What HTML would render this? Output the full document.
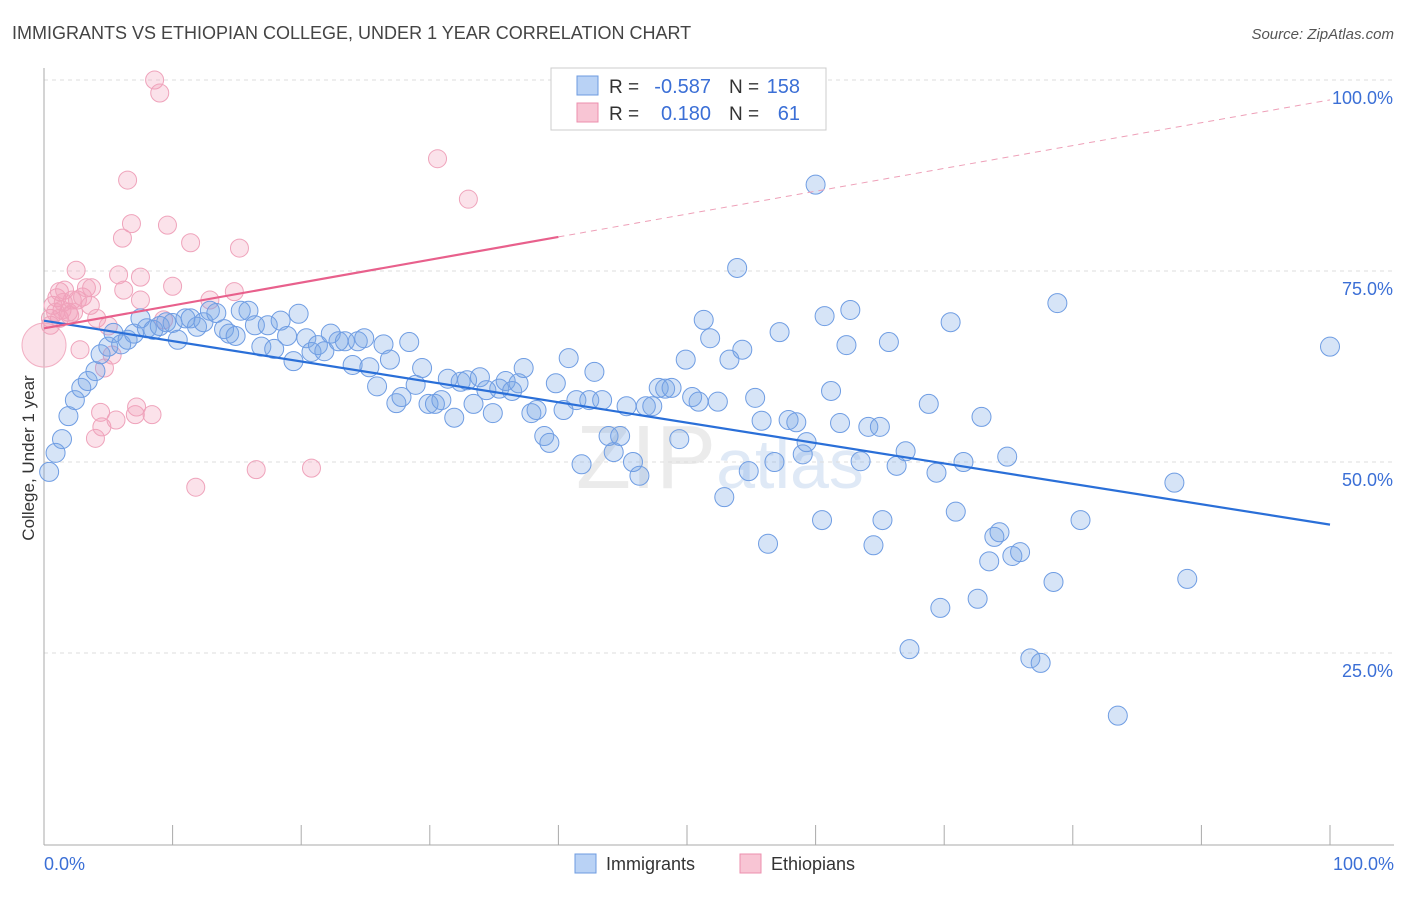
<!DOCTYPE html>
<html><head><meta charset="utf-8"><style>
body{margin:0;background:#fff;font-family:"Liberation Sans",sans-serif;}
svg text{font-family:"Liberation Sans",sans-serif;}
</style></head><body>
<svg id="chart" width="1406" height="892" viewBox="0 0 1406 892" xmlns="http://www.w3.org/2000/svg">
<text x="12" y="39" font-size="18" fill="#444">IMMIGRANTS VS ETHIOPIAN COLLEGE, UNDER 1 YEAR CORRELATION CHART</text>
<text x="1394" y="39" font-size="15" fill="#555" text-anchor="end" font-style="italic">Source: ZipAtlas.com</text>
<text x="720" y="488" font-size="90" fill="#eceef1" text-anchor="middle" font-family="Liberation Serif"><tspan fill="#ebebeb">ZIP</tspan><tspan fill="#dfe9f6" font-family="Liberation Sans" font-size="70">atlas</tspan></text>
<g id="grid"></g>
<line x1="44" y1="68" x2="44" y2="845" stroke="#aaa" stroke-width="1"/>
<line x1="44" y1="845" x2="1394" y2="845" stroke="#aaa" stroke-width="1"/>
<text transform="translate(34,458) rotate(-90)" font-size="17" fill="#333" text-anchor="middle">College, Under 1 year</text>
<text x="44" y="870" font-size="18" fill="#3b6fd6">0.0%</text>
<text x="1394" y="870" font-size="18" fill="#3b6fd6" text-anchor="end">100.0%</text>
<g id="pts"></g>
<g id="trends"></g>
<g>
<rect x="551" y="68" width="275" height="62" fill="#fff" stroke="#ccc"/>
<rect x="577" y="76" width="21" height="19" fill="#b9d2f5" stroke="#6d9be0"/>
<rect x="577" y="103" width="21" height="19" fill="#f8c5d4" stroke="#ec8fae"/>
<text x="609" y="93" font-size="19" fill="#333">R =</text>
<text x="711" y="93" font-size="20" fill="#3b6fd6" text-anchor="end">-0.587</text>
<text x="729" y="93" font-size="19" fill="#333">N =</text>
<text x="800" y="93" font-size="20" fill="#3b6fd6" text-anchor="end">158</text>
<text x="609" y="120" font-size="19" fill="#333">R =</text>
<text x="711" y="120" font-size="20" fill="#3b6fd6" text-anchor="end">0.180</text>
<text x="729" y="120" font-size="19" fill="#333">N =</text>
<text x="800" y="120" font-size="20" fill="#3b6fd6" text-anchor="end">61</text>
</g>
<g>
<rect x="575" y="854" width="21" height="19" fill="#b9d2f5" stroke="#6d9be0"/>
<text x="606" y="870" font-size="18" fill="#333">Immigrants</text>
<rect x="740" y="854" width="21" height="19" fill="#f8c5d4" stroke="#ec8fae"/>
<text x="771" y="870" font-size="18" fill="#333">Ethiopians</text>
</g>
</svg>
<script>
const yTicks=[25,50,75,100];
const yTickLabels=["25.0%","50.0%","75.0%","100.0%"];
const xTicks=[0,10,20,30,40,50,60,70,80,90,100];
const blueX=[0.4,0.9,1.4,1.9,2.4,2.9,3.4,4.0,4.4,5.0,5.4,6.0,6.5,7.0,7.5,8.0,8.5,9.0,9.5,10.0,10.4,11.0,11.4,11.9,12.4,12.9,13.4,14.0,14.4,14.9,15.3,15.9,16.4,16.9,17.4,17.9,18.4,18.9,19.4,19.8,20.4,20.8,21.3,21.8,22.3,22.9,23.4,24.0,24.4,24.9,25.3,25.9,26.4,26.9,27.4,27.8,28.4,28.9,29.4,29.9,30.4,30.9,31.4,31.9,32.4,32.9,33.4,33.9,34.4,34.9,35.4,35.9,36.4,36.9,37.3,37.9,38.3,38.9,39.3,39.8,40.4,40.8,41.4,41.8,42.4,42.8,43.4,43.9,44.3,44.8,45.3,45.8,46.3,46.8,47.3,47.8,48.3,48.8,49.4,49.9,50.4,50.9,51.3,51.8,52.4,52.9,53.3,53.9,54.3,54.8,55.3,55.8,56.3,56.8,57.2,57.9,58.5,59.0,59.3,60.0,60.5,60.7,61.2,61.9,62.4,62.7,63.5,64.1,64.5,65.0,65.2,65.7,66.3,67.0,67.3,68.8,69.4,69.7,70.5,70.9,71.5,72.6,72.9,73.5,73.9,74.3,74.9,75.3,75.9,76.7,77.5,78.5,78.8,80.6,83.5,87.9,88.9,100];
const blueY=[48.7,51.2,53.0,56.0,58.1,59.7,60.6,61.9,64.1,65.1,66.9,65.4,66.0,66.8,68.8,67.5,67.3,67.8,68.3,68.2,66.0,68.8,68.8,67.7,68.3,69.8,69.5,67.4,66.8,66.5,69.8,69.8,67.9,65.1,67.9,64.8,68.5,66.5,63.2,69.4,66.2,64.4,65.3,64.5,66.8,65.8,65.8,62.7,65.8,66.2,62.4,59.9,65.4,63.4,57.7,58.5,65.7,60.1,62.3,57.6,57.6,58.1,60.9,55.8,60.5,60.7,57.6,61.1,59.4,56.4,59.6,60.6,59.3,60.3,62.3,56.4,56.8,53.4,52.5,60.3,56.8,63.6,58.1,49.7,58.1,61.8,58.1,53.4,51.3,53.4,57.3,50.0,48.2,57.3,57.3,59.7,59.6,59.7,53.0,63.4,58.5,57.9,68.6,66.2,57.9,45.4,63.4,75.4,64.7,48.8,58.4,55.4,39.3,50.0,67.0,55.5,55.2,51.0,52.6,86.3,42.4,69.1,59.3,55.1,65.3,69.9,50.1,54.6,39.1,54.6,42.4,65.7,49.5,51.4,25.5,57.6,48.6,30.9,68.3,43.5,50.0,32.1,55.9,37.0,40.2,40.8,50.7,37.7,38.2,24.3,23.7,34.3,70.8,42.4,16.8,47.3,34.7,65.1];
const pinkX=[0.5,0.7,1.0,1.2,1.4,1.6,1.9,2.2,2.5,2.6,3.0,3.3,3.6,3.7,4.1,4.4,4.0,4.5,4.7,5.0,5.3,5.6,5.8,6.1,6.2,6.5,6.8,7.1,7.2,7.5,7.5,8.4,8.6,9.0,9.3,9.6,10.0,11.4,11.8,12.9,14.8,15.2,16.5,20.8,30.6,33.0,0.5,0.9,1.2,1.5,2.0,2.3,2.8];
const pinkY=[68.8,70.5,71.5,72.3,69.9,72.5,69.6,71.2,75.1,71.2,71.6,72.8,70.5,72.8,68.8,56.5,53.1,54.6,62.3,67.8,64.0,55.5,74.5,79.3,72.5,86.9,81.2,56.2,57.2,74.2,71.2,56.2,100,98.3,68.6,81.0,73.0,78.7,46.7,71.2,72.3,78.0,49.0,49.2,89.7,84.4,67.9,69.6,68.8,70.9,69.2,69.6,64.7];
const bigPinkX=[0.0];
const bigPinkY=[65.3];
const blueTrend=[68.5,41.8];
const pinkTrend=[67.5,97.4];
const pinkSolidEnd=40;

const X=v=>44+v*12.86;
const Y=v=>844-v*7.64;
const NS="http://www.w3.org/2000/svg";
function mk(tag,parent,attrs){const e=document.createElementNS(NS,tag);for(const k in attrs)e.setAttribute(k,attrs[k]);parent.appendChild(e);return e;}
const grid=document.getElementById('grid');
yTicks.forEach((t,i)=>{
  const l=mk('line',grid,{x1:44,x2:1394,y1:Y(t),y2:Y(t),stroke:'#ddd','stroke-dasharray':'4,4'});
  
  
  const tx=mk('text',grid,{x:1393,y:Y(t)+24,'font-size':18,fill:'#3b6fd6','text-anchor':'end'});
  tx.textContent=yTickLabels[i];
  
  
});
xTicks.forEach(t=>{
  const l=mk('line',grid,{x1:X(t),x2:X(t),y1:825,y2:845,stroke:'#aaa'});
  
  
});
const pts=document.getElementById('pts');
bigPinkX.forEach((x,i)=>{
  const c=mk('circle',pts,{cx:X(x),cy:Y(bigPinkY[i]),r:22,fill:'rgba(242,160,185,0.3)',stroke:'#f2b0c4','stroke-width':1});
  
  
});
pinkX.forEach((x,i)=>{
  const c=mk('circle',pts,{cx:X(x),cy:Y(pinkY[i]),r:9,fill:'rgba(242,160,185,0.3)',stroke:'#efa3bb','stroke-width':1});
  
  
});
blueX.forEach((x,i)=>{
  const c=mk('circle',pts,{cx:X(x),cy:Y(blueY[i]),r:9.5,fill:'rgba(120,165,230,0.3)',stroke:'#6f9de3','stroke-width':1});
  
  
});
const tr=document.getElementById('trends');
const pAt=v=>pinkTrend[0]+(pinkTrend[1]-pinkTrend[0])*v/100;
let l1=mk('line',tr,{x1:X(0),y1:Y(blueTrend[0]),x2:X(100),y2:Y(blueTrend[1]),stroke:'#2a6fd8','stroke-width':2.2});


let l2=mk('line',tr,{x1:X(0),y1:Y(pAt(0)),x2:X(pinkSolidEnd),y2:Y(pAt(pinkSolidEnd)),stroke:'#e8608c','stroke-width':2.2});


let l3=mk('line',tr,{x1:X(pinkSolidEnd),y1:Y(pAt(pinkSolidEnd)),x2:X(100),y2:Y(pAt(100)),stroke:'#eea0b8','stroke-width':1,'stroke-dasharray':'6,5'});


</script>
</body></html>
